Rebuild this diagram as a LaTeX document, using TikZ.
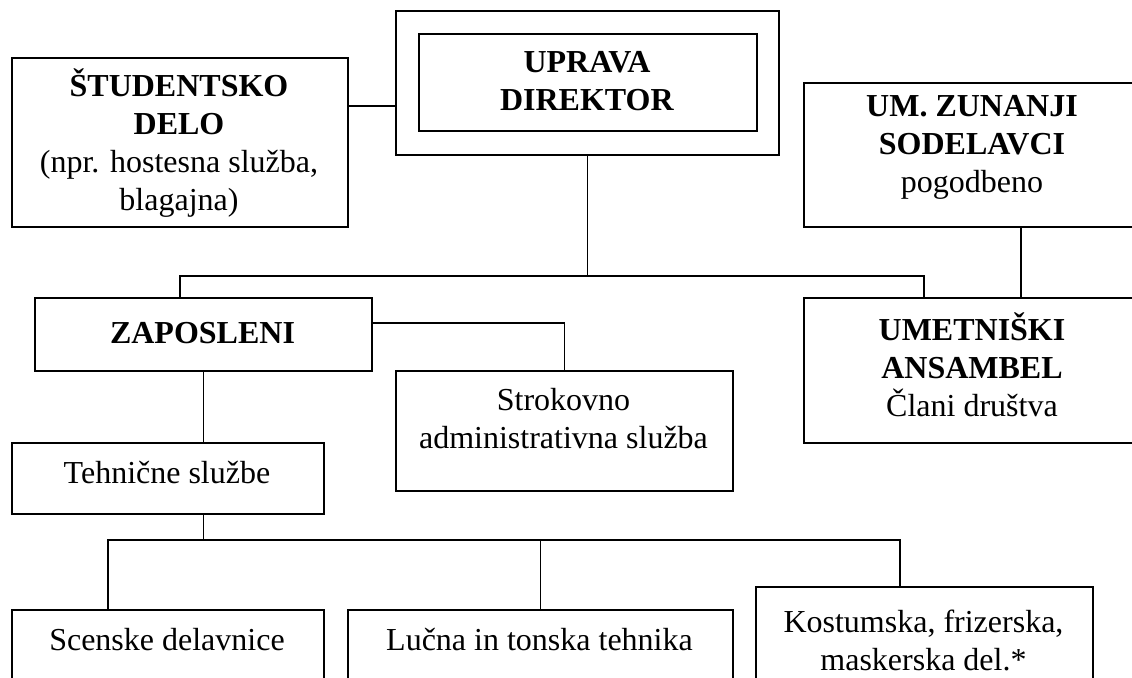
\documentclass[tikz,border=0pt]{standalone}
\usepackage{fontspec}
\setmainfont{Liberation Serif}
\usetikzlibrary{positioning}

\begin{document}
\begin{tikzpicture}%
  [x=0.5pt,y=-0.5pt,
   link/.style={line width=0.8pt}]
  \tikzstyle{box node}=[rectangle,draw,line width=1pt,inner sep=0,anchor=north west]
  \tikzstyle{txt node}=[align=center,inner sep=0,font=\fontsize{16}{19}\selectfont]
  \useasboundingbox (0,0) rectangle (1132,678);
  \clip (0,0) rectangle (1132,678);
  % boxes
  \node(stud)[box node,minimum width=168pt,minimum height=84.5pt] at (11,57) {};
  \node(upr)[box node,minimum width=191.5pt,minimum height=72pt] at (395,10) {};
  \node(upr-in)[box node,minimum width=169pt,minimum height=48.5pt] at (418,33) {};
  \node(zun)[box node,minimum width=169pt,minimum height=72pt] at (803,82) {};
  \node(zap)[box node,minimum width=168.5pt,minimum height=36.5pt] at (34,297) {};
  \node(umet)[box node,minimum width=169pt,minimum height=72.5pt] at (803,297) {};
  \node(strok)[box node,minimum width=168.5pt,minimum height=60pt] at (395,370) {};
  \node(tehn)[box node,minimum width=156pt,minimum height=35.5pt] at (11,442) {};
  \node(scen)[box node,minimum width=156pt,minimum height=60pt] at (11,609) {};
  \node(lucna)[box node,minimum width=192.5pt,minimum height=60pt] at (347,609) {};
  \node(kost)[box node,minimum width=168.5pt,minimum height=70pt] at (755,586) {};
  % texts
  \node(stud-t)[txt node] at (179,143.5)
    {\textbf{ŠTUDENTSKO}\\\textbf{DELO}\\(npr. hostesna služba,\\blagajna)};
  \node(upr-t)[txt node] at (587,81.5) {\textbf{UPRAVA}\\\textbf{DIREKTOR}};
  \node(zun-t)[txt node] at (972,147) {\textbf{UM. ZUNANJI}\\\textbf{SODELAVCI}\\pogodbeno};
  \node(umet-t)[txt node] at (972,365) {\textbf{UMETNIŠKI}\\\textbf{ANSAMBEL}\\Člani društva};
  \node(zap-t)[txt node] at (202.5,333) {\textbf{ZAPOSLENI}};
  \node(strok-t)[txt node] at (563.5,418.5) {Strokovno\\administrativna služba};
  \node(tehn-t)[txt node] at (167,473) {Tehnične službe};
  \node(scen-t)[txt node] at (167,640) {Scenske delavnice};
  \node(lucna-t)[txt node] at (539.5,640) {Lučna in tonska tehnika};
  \node(kost-t)[txt node] at (923.5,640.5) {Kostumska, frizerska,\\maskerska del.*};
  % connectors
  \draw[link] ([yshift=-24.5pt]stud.north east) coordinate (s1) -- (s1 -| upr.west);
  \draw[link] (upr.south) -- ++(0,120) coordinate (j1);
  \draw[link] ([xshift=-11.75pt]zap.north) |- (j1) -| ([xshift=-24.5pt]umet.north);
  \draw[link] ([xshift=24pt]zun.south) -- ([xshift=24pt]umet.north);
  \draw[link] ([yshift=5.75pt]zap.east) -| (strok.north);
  \draw[link] (zap.south) -- (zap.south |- tehn.north);
  \draw[link] (zap.south |- tehn.south) -- ++(0,25) coordinate (j2);
  \draw[link] ([xshift=-30pt]scen.north) |- (j2) -| ([xshift=-12.25pt]kost.north);
  \draw[link] (lucna.north) -- (lucna.north |- j2);
\end{tikzpicture}
\end{document}
